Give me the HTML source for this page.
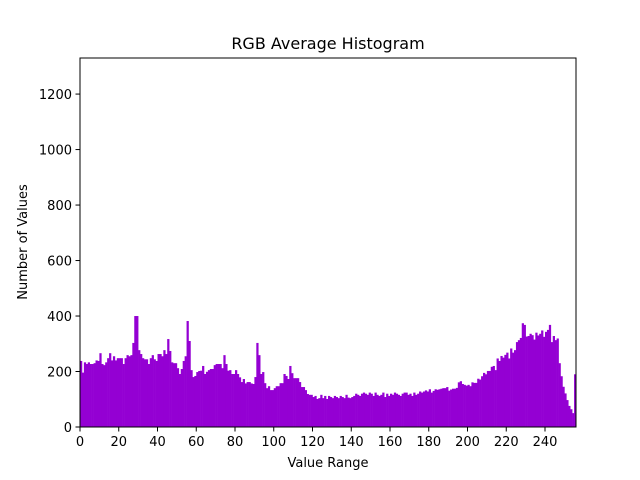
<!DOCTYPE html>
<html><head><meta charset="utf-8"><style>
html,body{margin:0;padding:0;background:#fff;}
svg{display:block;font-family:"DejaVu Sans","Liberation Sans",sans-serif;}
</style></head><body>
<svg id="chart" width="640" height="480">
<rect width="640" height="480" fill="#fff"/>
<text x="328" y="49" text-anchor="middle" font-size="16" fill="#000">RGB Average Histogram</text>
<g id="bars"></g>
<g id="xticks"></g>
<g id="yticks"></g>
<rect x="80" y="58" width="496" height="369" fill="none" stroke="#000" stroke-width="1"/>
<text x="328" y="467" text-anchor="middle" font-size="13">Value Range</text>
<text transform="translate(27,242) rotate(-90)" text-anchor="middle" font-size="13">Number of Values</text>
</svg>
<script>
const counts = [
238,196,233,227,233,227,227,230,240,238,
266,227,223,233,248,266,240,255,240,248,
248,248,227,248,259,255,259,303,400,400,
277,263,248,244,244,227,248,259,244,238,
263,263,255,277,263,317,274,233,230,230,
212,191,209,238,255,382,310,205,180,184,
198,202,
203,220,191,199,205,209,209,223,227,227,
227,212,259,227,203,205,191,191,205,191,
179,162,173,157,162,162,157,155,180,303,
259,191,198,158,140,147,133,133,140,147,
147,158,158,191,184,173,220,194,176,176,
176,162,144,144,133,119,116,116,108,112,
101,104,116,104,112,101,
112,108,104,112,108,104,112,108,104,116,
106,104,108,112,120,116,112,120,124,120,
116,124,120,112,124,116,112,116,124,108,
120,112,120,116,124,120,116,112,120,124,
124,116,120,112,124,116,120,128,124,128,
132,128,136,124,130,136,134,136,138,140,
140,144,
131,135,138,138,141,161,165,155,152,149,
152,147,161,159,159,174,171,183,195,190,
202,202,217,220,205,247,238,256,250,260,
268,247,283,268,277,306,313,321,374,368,
326,328,336,331,315,340,330,336,348,325,
343,350,368,306,328,313,319,
230,183,145,121,97,76,64,50,190
];
const xTicks = [0,20,40,60,80,100,120,140,160,180,200,220,240];
const yTicks = [0,200,400,600,800,1000,1200];
const X0=80,X1=576,Y0=427,Y1=58,XMAX=256,YMAX=1330;
function xs(v){return X0+(v/XMAX)*(X1-X0);}
function ys(v){return Y0-(v/YMAX)*(Y0-Y1);}
const NS="http://www.w3.org/2000/svg";
const bars=document.getElementById('bars');
counts.forEach((c,i)=>{
  const r=document.createElementNS(NS,'rect');
  r.setAttribute('x',xs(i));
  r.setAttribute('width',xs(i+1)-xs(i)+0.3);
  r.setAttribute('y',ys(c));
  r.setAttribute('height',Y0-ys(c));
  r.setAttribute('fill','#9400d3');
  
  
  bars.appendChild(r);
});
const xg=document.getElementById('xticks');
xTicks.forEach(t=>{
  const l=document.createElementNS(NS,'line');
  l.setAttribute('x1',xs(t));l.setAttribute('x2',xs(t));
  l.setAttribute('y1',Y0);l.setAttribute('y2',Y0+4.5);
  l.setAttribute('stroke','#000');
  
  
  xg.appendChild(l);
  const tx=document.createElementNS(NS,'text');
  tx.setAttribute('x',xs(t));tx.setAttribute('y',Y0+19);
  tx.setAttribute('text-anchor','middle');tx.setAttribute('font-size','13');
  tx.textContent=t;
  
  
  xg.appendChild(tx);
});
const yg=document.getElementById('yticks');
yTicks.forEach(t=>{
  const l=document.createElementNS(NS,'line');
  l.setAttribute('x1',X0-4.5);l.setAttribute('x2',X0);
  l.setAttribute('y1',ys(t));l.setAttribute('y2',ys(t));
  l.setAttribute('stroke','#000');
  
  
  yg.appendChild(l);
  const tx=document.createElementNS(NS,'text');
  tx.setAttribute('x',X0-8);tx.setAttribute('y',ys(t)+5);
  tx.setAttribute('text-anchor','end');tx.setAttribute('font-size','13');
  tx.textContent=t;
  
  
  yg.appendChild(tx);
});
</script>
</body></html>
